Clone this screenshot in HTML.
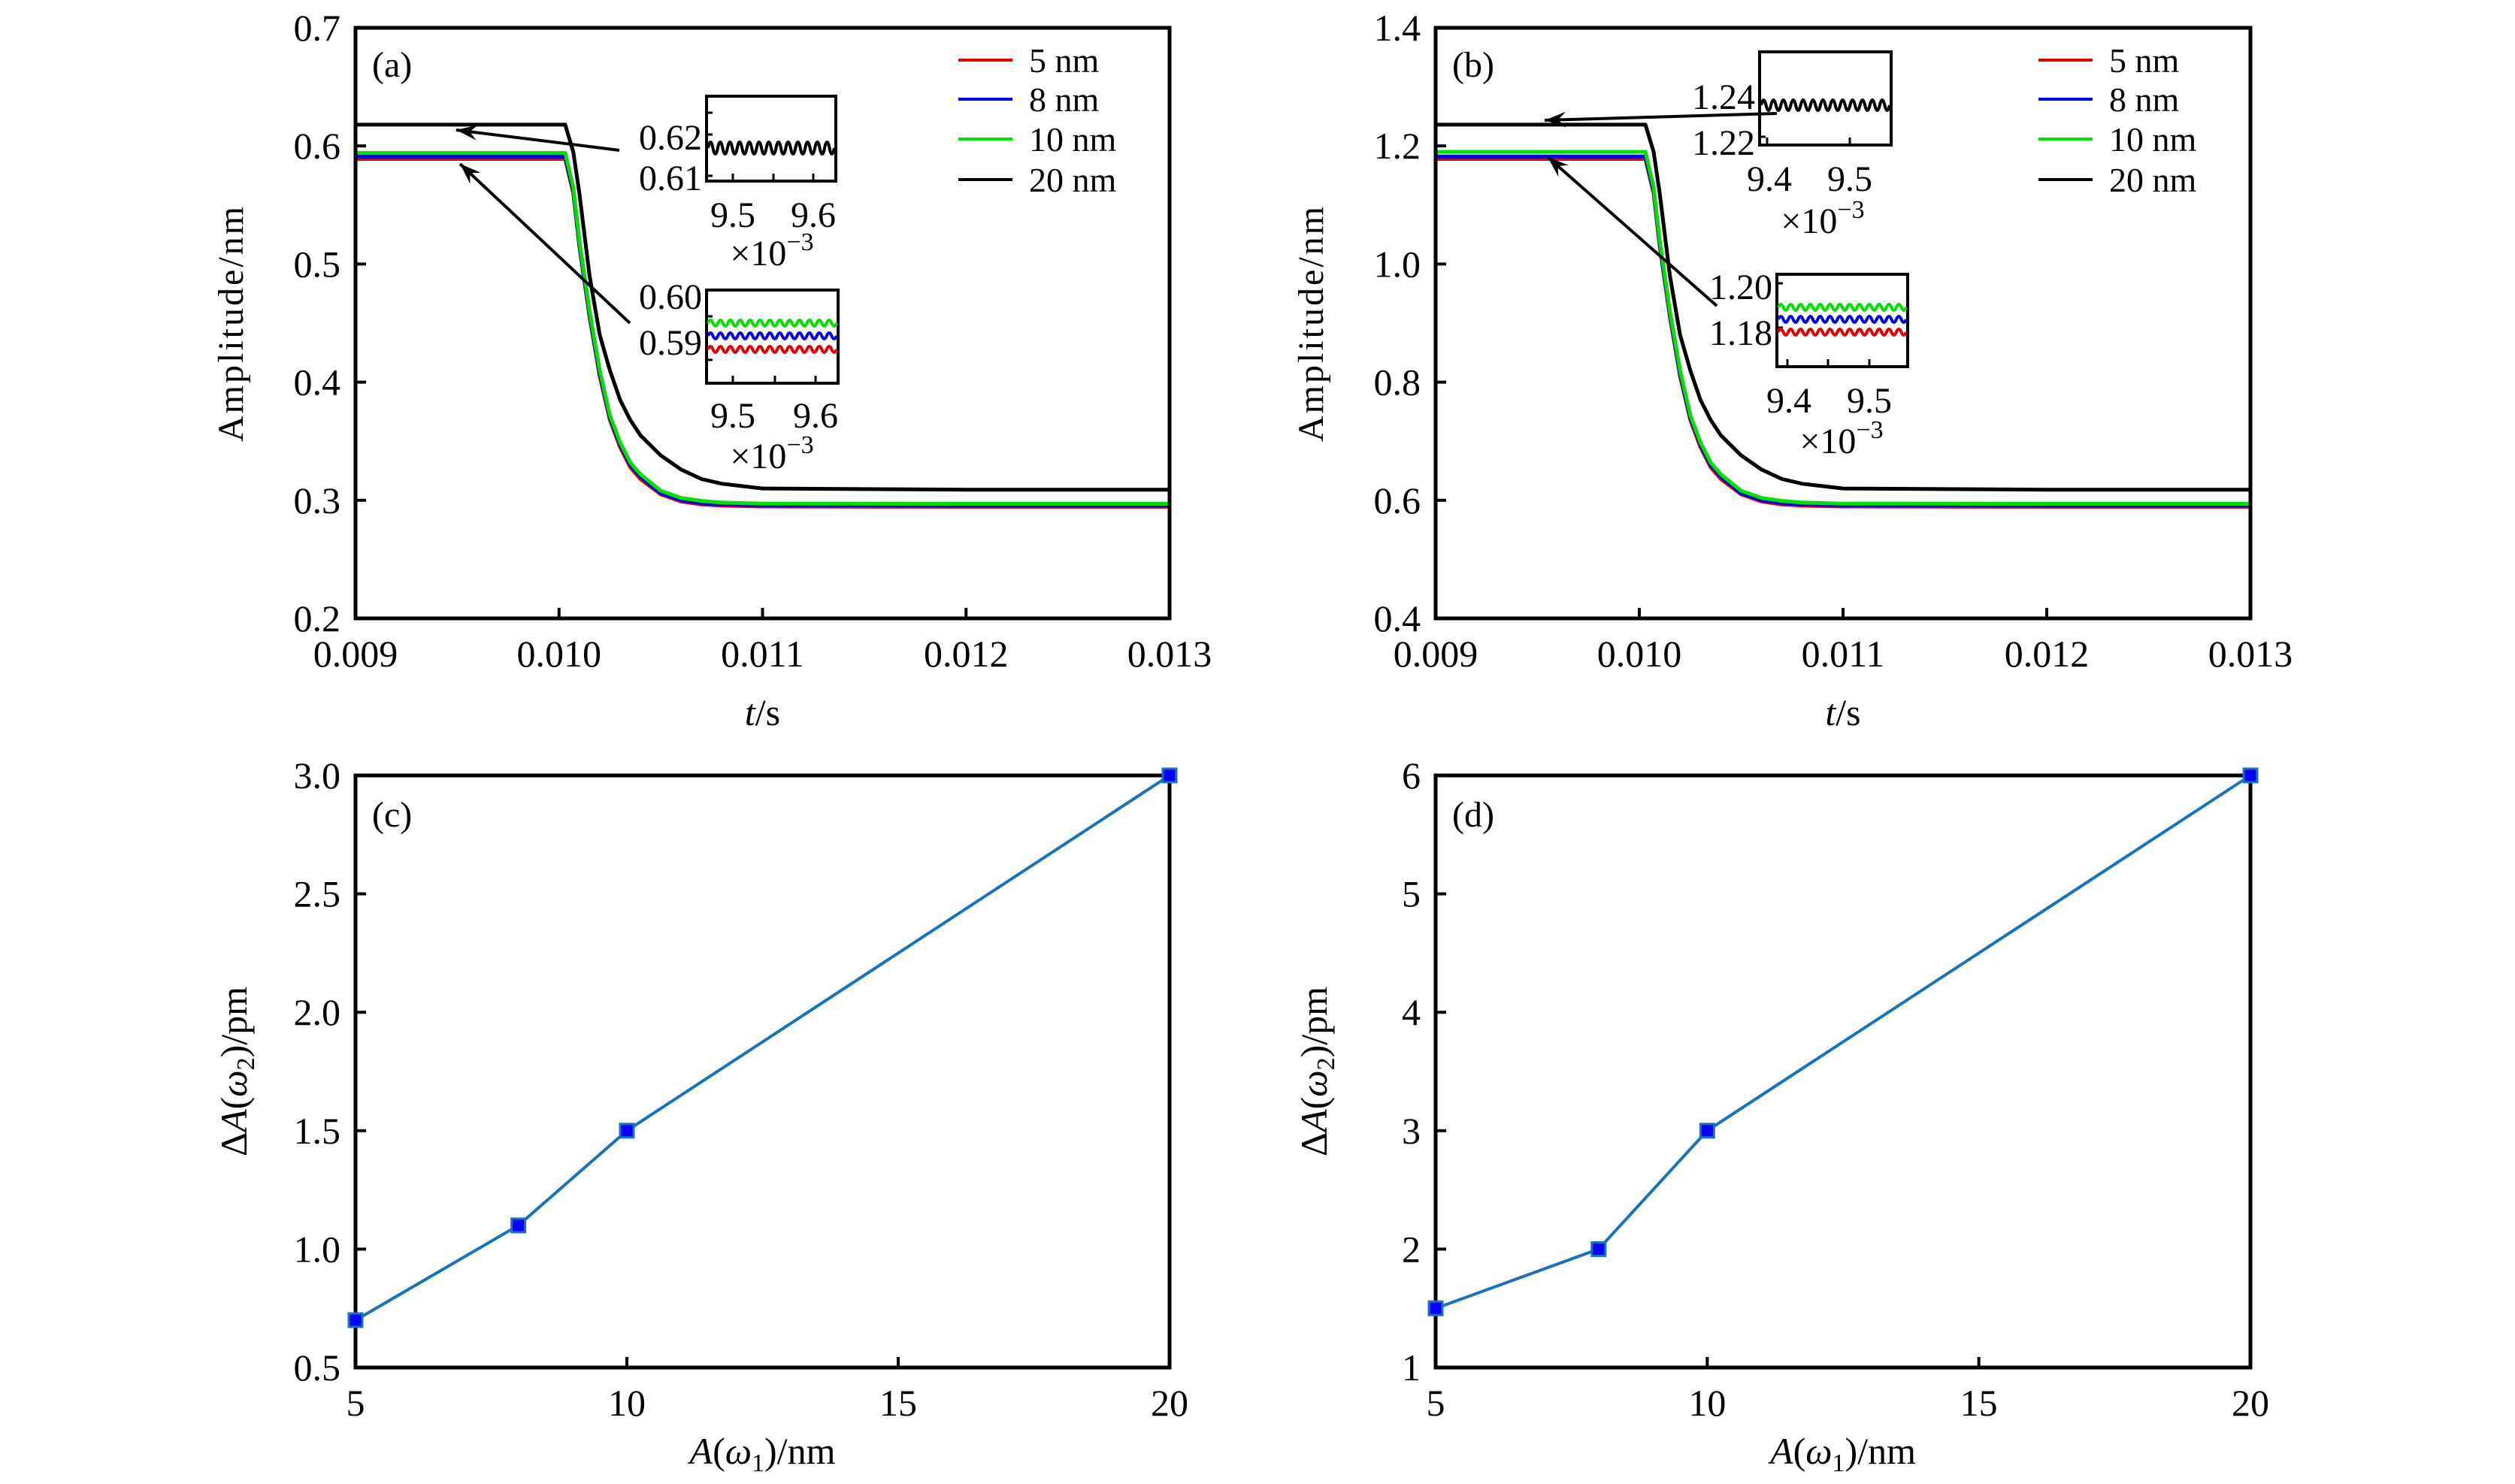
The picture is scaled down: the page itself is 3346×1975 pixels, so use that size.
<!DOCTYPE html>
<html><head><meta charset="utf-8"><style>
html,body{margin:0;padding:0;background:#fff}
svg{display:block}
text{font-family:"Liberation Serif",serif;fill:#000}
</style></head><body>
<svg id="fig" width="3346" height="1975" viewBox="0 0 3346 1975" xmlns="http://www.w3.org/2000/svg"></svg>
<script>
// ---------- data ----------
const seriesNames = ["5 nm","8 nm","10 nm","20 nm"];
const seriesColors = ["#e00000","#0000e0","#00e000","#000000"];
// panel (a) time points (s)
const tA = [0.009,0.009,0.01003,0.01007,0.0101,0.01015,0.0102,0.01025,0.0103,0.01035,0.0104,0.0105,0.0106,0.0107,0.0108,0.011,0.012,0.013,0.013];
const a5  = [0.40,0.589,0.589,0.560,0.515,0.455,0.405,0.368,0.345,0.328,0.318,0.305,0.299,0.2965,0.2955,0.2948,0.2945,0.2945,0.21];
const a8  = [0.41,0.591,0.591,0.562,0.517,0.457,0.407,0.370,0.347,0.330,0.320,0.306,0.300,0.2975,0.2965,0.2958,0.2955,0.2955,0.22];
const a10 = [0.46,0.594,0.594,0.565,0.520,0.460,0.410,0.372,0.349,0.332,0.322,0.308,0.302,0.2995,0.298,0.2972,0.297,0.297,0.25];
const a20 = [0.47,0.618,0.618,0.595,0.560,0.490,0.440,0.410,0.385,0.368,0.355,0.338,0.326,0.318,0.314,0.310,0.309,0.309,0.26];
// panel (b)
const b5  = [0.80,1.178,1.178,1.120,1.030,0.910,0.810,0.736,0.690,0.656,0.636,0.610,0.598,0.593,0.591,0.5896,0.589,0.589,0.45];
const b8  = [0.85,1.182,1.182,1.124,1.034,0.914,0.814,0.740,0.694,0.660,0.640,0.612,0.600,0.595,0.593,0.5916,0.591,0.591,0.48];
const b10 = [0.97,1.190,1.190,1.130,1.040,0.920,0.820,0.744,0.698,0.664,0.644,0.616,0.604,0.599,0.596,0.5944,0.594,0.594,0.56];
const b20 = [0.97,1.236,1.236,1.190,1.120,0.980,0.880,0.820,0.770,0.736,0.710,0.676,0.652,0.636,0.628,0.620,0.618,0.618,0.60];
// panels (c),(d)
const cdX = [5,8,10,20];
const cY = [0.7,1.1,1.5,3.0];
const dY = [1.5,2,3,6];
const tTicks = [0.009,0.010,0.011,0.012,0.013];
const tTickLabels = ["0.009","0.010","0.011","0.012","0.013"];
const aTicks = [0.2,0.3,0.4,0.5,0.6,0.7];
const aTickLabels = ["0.2","0.3","0.4","0.5","0.6","0.7"];
const bTicks = [0.4,0.6,0.8,1.0,1.2,1.4];
const bTickLabels = ["0.4","0.6","0.8","1.0","1.2","1.4"];
const cTicks = [0.5,1.0,1.5,2.0,2.5,3.0];
const cTickLabels = ["0.5","1.0","1.5","2.0","2.5","3.0"];
const dTicks = [1,2,3,4,5,6];
const dTickLabels = ["1","2","3","4","5","6"];
const xTicksCD = [5,10,15,20];
const xTickLabelsCD = ["5","10","15","20"];

// ---------- helpers ----------
const svg = document.getElementById('fig');
const NS = "http://www.w3.org/2000/svg";
function mk(tag, attrs, parent){
  const e = document.createElementNS(NS, tag);
  for (const k in attrs) e.setAttribute(k, attrs[k]);
  (parent||svg).appendChild(e);
  return e;
}
function txt(s, x, y, size, anchor, parent){
  const t = mk('text', {x:x, y:y, 'font-size':size, 'text-anchor':anchor||'middle'}, parent);
  t.textContent = s;
  return t;
}
function lin(d0,d1,r0,r1){ return v => r0 + (v-d0)/(d1-d0)*(r1-r0); }

function axes(g, L, T, R, B, xs, ys, xt, xtl, yt, ytl){
  for (let i=0;i<xt.length;i++){
    const x = xs(xt[i]);
    const tk = mk('line',{x1:x,y1:B,x2:x,y2:B-14,stroke:'#000','stroke-width':4},g);
    
    
    const lb = txt(xtl[i], x, B+64, 50, 'middle', g);
    
    
  }
  for (let i=0;i<yt.length;i++){
    const y = ys(yt[i]);
    const tk = mk('line',{x1:L,y1:y,x2:L+14,y2:y,stroke:'#000','stroke-width':4},g);
    
    
    const lb = txt(ytl[i], L-20, y+17, 50, 'end', g);
    
    
  }
  const fr = mk('rect',{x:L,y:T,width:R-L,height:B-T,fill:'none',stroke:'#000','stroke-width':5},g);
  
  
}
function poly(g, xs, ys, X, Y, color, w){
  let d = '';
  for (let i=0;i<X.length;i++) d += (i?'L':'M') + xs(X[i]).toFixed(1)+','+ys(Y[i]).toFixed(1);
  return mk('path',{d:d,fill:'none',stroke:color,'stroke-width':w,'stroke-linejoin':'round'},g);
}
function wave(g, x0, x1, yc, amp, n, color, w){
  let d = 'M'+x0+','+yc;
  const step = (x1-x0)/(n*2);
  for (let i=0;i<n*2;i++){
    const xa = x0+step*(i+0.5), xb = x0+step*(i+1);
    d += 'Q'+xa+','+(yc+(i%2?amp:-amp)*2)+' '+xb+','+yc;
  }
  return mk('path',{d:d,fill:'none',stroke:color,'stroke-width':w},g);
}
function arrow(g, x1,y1,x2,y2){
  const l = mk('line',{x1:x1,y1:y1,x2:x2,y2:y2,stroke:'#000','stroke-width':4},g);
  
  
  const a = Math.atan2(y2-y1,x2-x1), s=30, h=0.35;
  const p = [[x2,y2],[x2-s*Math.cos(a-h),y2-s*Math.sin(a-h)],[x2-s*0.6*Math.cos(a),y2-s*0.6*Math.sin(a)],[x2-s*Math.cos(a+h),y2-s*Math.sin(a+h)]];
  const hd = mk('polygon',{points:p.map(q=>q.join(',')).join(' '),fill:'#000'},g);
  
  
}
function inset(g, L,T,R,B, labels, labelYs, ytickYs, xlabels, xlabelXs, xlabelY, xtickXs, waves, expX, expY){
  const r = mk('rect',{x:L,y:T,width:R-L,height:B-T,fill:'#fff',stroke:'#000','stroke-width':4},g);
  
  
  ytickYs.forEach(y=>mk('line',{x1:L,y1:y,x2:L+8,y2:y,stroke:'#000','stroke-width':3},g));
  xtickXs.forEach(x=>mk('line',{x1:x,y1:B,x2:x,y2:B-10,stroke:'#000','stroke-width':3},g));
  waves.forEach(wv=>{
    const w = wave(g, L+2, R-2, wv[0], wv[1], 13, wv[2], 4);
    
    
  });
  labels.forEach((s,i)=>{
    const t = txt(s, L-6, labelYs[i]+17, 48, 'end', g);
    
    
  });
  xlabels.forEach((s,i)=>{
    const t = txt(s, xlabelXs[i], xlabelY+17, 48, 'middle', g);
    
    
  });
  const e = mk('text',{x:expX,y:expY+17,'font-size':48,'text-anchor':'middle'},g);
  
  
  e.innerHTML = '×10<tspan dy="-20" font-size="34">−3</tspan>';
}
function legend(g, x0, ys){
  seriesNames.forEach((n,i)=>{
    const ln = mk('line',{x1:x0,y1:ys[i],x2:x0+72,y2:ys[i],stroke:seriesColors[i],'stroke-width':4},g);
    
    
    const t = txt(n, x0+94, ys[i]+16, 46, 'start', g);
    
    
  });
}

function timePanel(name, L, R, yMin, yMax, yt, ytl, data, label, ins1, ins2, arrows){
  const T=37, B=823;
  const g = mk('g',{});
  
  
  const xs = lin(0.009,0.013,L,R), ys = lin(yMin,yMax,B,T);
  data.forEach((Y,i)=>{
    const p = poly(g, xs, ys, tA, Y, seriesColors[i], 5);
    
    
  });
  axes(g, L,T,R,B, xs, ys, tTicks, tTickLabels, yt, ytl);
  const pl = txt(label, L+22, 102, 48, 'start', g);
  
  
  legend(g, L+802, [80,132,185,239]);
  inset.apply(null,[g].concat(ins1));
  inset.apply(null,[g].concat(ins2));
  arrows.forEach(a=>arrow(g,a[0],a[1],a[2],a[3]));
  const yl = mk('text',{x:0,y:0,'font-size':48,'text-anchor':'middle',transform:'translate('+(L-150)+','+((T+B)/2)+') rotate(-90)','letter-spacing':'3'},g);
  yl.textContent = 'Amplitude/nm';
  
  
  const xl = mk('text',{x:(L+R)/2,y:965,'font-size':50,'text-anchor':'middle'},g);
  xl.innerHTML = '<tspan font-style="italic">t</tspan>/s';
  
  
}
timePanel('panel-a', 473, 1556, 0.2, 0.7, aTicks, aTickLabels, [a5,a8,a10,a20], '(a)',
  [940,128,1112,241, ['0.62','0.61'], [182,236], [150,179,234], ['9.5','9.6'], [975,1082], 285, [975,1029,1082], [[197,8,'#000']], 1027, 336],
  [940,386,1115,510, ['0.60','0.59'], [394,455], [421,479], ['9.5','9.6'], [975,1085], 552, [975,1031,1085], [[430,4,'#00e000'],[447,4,'#0000e0'],[465,4,'#e00000']], 1027, 606],
  [[824,200,607,173],[838,430,612,218]]);
timePanel('panel-b', 1910, 2994, 0.4, 1.4, bTicks, bTickLabels, [b5,b8,b10,b20], '(b)',
  [2341,69,2516,193, ['1.24','1.22'], [128,189], [136,182], ['9.4','9.5'], [2354,2461], 237, [2351,2461], [[140,7,'#000']], 2425, 293],
  [2364,365,2538,488, ['1.20','1.18'], [381,442], [377,436], ['9.4','9.5'], [2380,2487], 532, [2378,2432,2487], [[409,4,'#00e000'],[425,4,'#0000e0'],[442,4,'#e00000']], 2450, 586],
  [[2364,151,2055,160],[2284,407,2059,209]]);

function scatterPanel(name, L, R, yMin, yMax, yt, ytl, Y, label){
  const T=1032, B=1820;
  const g = mk('g',{});
  
  
  const xs = lin(5,20,L,R), ys = lin(yMin,yMax,B,T);
  axes(g, L,T,R,B, xs, ys, xTicksCD, xTickLabelsCD, yt, ytl);
  const p = poly(g, xs, ys, cdX, Y, '#1a72b8', 4);
  
  
  cdX.forEach((x,i)=>{
    const m = mk('rect',{x:xs(x)-9,y:ys(Y[i])-9,width:18,height:18,fill:'#0000ff',stroke:'#1a72b8','stroke-width':3},g);
    
    
  });
  const pl = txt(label, L+22, 1100, 48, 'start', g);
  
  
  const yl = mk('text',{x:0,y:0,'font-size':50,'text-anchor':'middle',transform:'translate('+(L-145)+','+((T+B)/2)+') rotate(-90)'},g);
  yl.innerHTML = 'Δ<tspan font-style="italic">A</tspan>(<tspan font-style="italic">ω</tspan><tspan font-size="34" dy="10">2</tspan><tspan dy="-10">)/pm</tspan>';
  
  
  const xl = mk('text',{x:(L+R)/2,y:1948,'font-size':50,'text-anchor':'middle'},g);
  xl.innerHTML = '<tspan font-style="italic">A</tspan>(<tspan font-style="italic">ω</tspan><tspan font-size="34" dy="10">1</tspan><tspan dy="-10">)/nm</tspan>';
  
  
}
scatterPanel('panel-c', 473, 1556, 0.5, 3.0, cTicks, cTickLabels, cY, '(c)');
scatterPanel('panel-d', 1910, 2994, 1, 6, dTicks, dTickLabels, dY, '(d)');
</script>
</body></html>
